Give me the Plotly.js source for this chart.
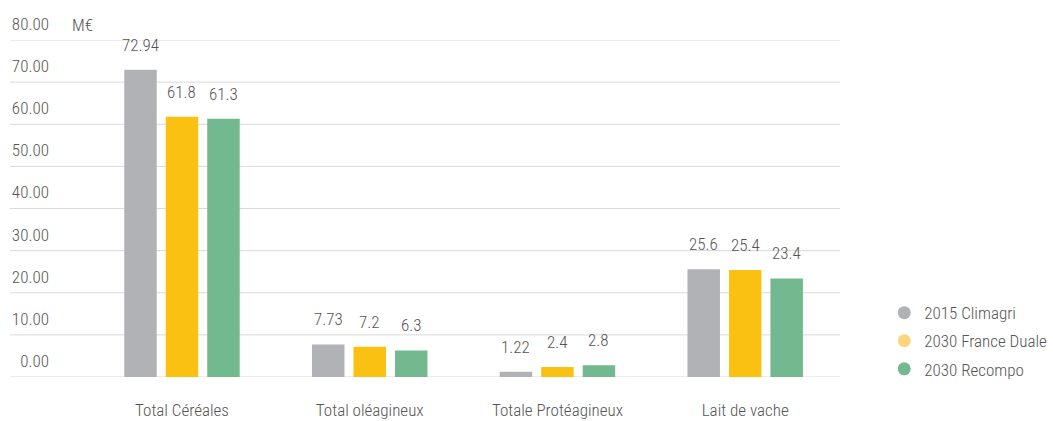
<!DOCTYPE html>
<html>
<head>
<meta charset="utf-8">
<script src="https://cdn.plot.ly/plotly-3.0.1.min.js"></script>
<style>html,body{margin:0;padding:0;background:#fff;}#chart{width:1053px;height:421px;}</style>
</head>
<body>
<div id="chart"></div>
<script>
const categories = ["Total Céréales", "Total oléagineux", "Totale Protéagineux", "Lait de vache"];
const seriesNames = ["2015 Climagri", "2030 France Duale", "2030 Recompo"];
const climagri2015 = [72.94, 7.73, 1.22, 25.6];
const franceDuale2030 = [61.8, 7.2, 2.4, 25.4];
const recompo2030 = [61.3, 6.3, 2.8, 23.4];
const labels2015 = ["72.94", "7.73", "1.22", "25.6"];
const labelsDuale = ["61.8", "7.2", "2.4", "25.4"];
const labelsRecompo = ["61.3", "6.3", "2.8", "23.4"];
const yTicks = [0, 10, 20, 30, 40, 50, 60, 70, 80];
const yTickText = ["0.00", "10.00", "20.00", "30.00", "40.00", "50.00", "60.00", "70.00", "80.00"];
const unitLabel = "M€";

const colors = ["#b1b2b6", "#fbc112", "#73b98f"];
const legendColors = ["#b1b2b6", "#fdd67c", "#73b98f"];
const FONT = "'Roboto Condensed', 'DejaVu Sans Condensed', 'Liberation Sans Narrow', 'Arial Narrow', 'Roboto', sans-serif";
const TXT = "#555555";

const allValues = [climagri2015, franceDuale2030, recompo2030];
const allLabels = [labels2015, labelsDuale, labelsRecompo];

const traces = [];
allValues.forEach((vals, s) => {
  traces.push({
    type: "bar", x: categories, y: vals, name: seriesNames[s],
    marker: {color: colors[s], line: {width: 0}},
    showlegend: false, hoverinfo: "skip"
  });
});
allValues.forEach((vals, s) => {
  traces.push({
    type: "scatter", mode: "markers", x: [null], y: [null], name: seriesNames[s],
    marker: {color: legendColors[s], size: 13, symbol: "circle"},
    legendgroup: "g" + s, showlegend: true
  });
});

const annotations = [];
allValues.forEach((vals, s) => {
  vals.forEach((v, i) => {
    annotations.push({
      x: categories[i], y: v, xref: "x", yref: "y",
      text: allLabels[s][i], showarrow: false,
      xshift: (s - 1) * 41.5, yshift: 13, yanchor: "bottom", xanchor: "center",
      font: {family: FONT, size: 17, color: TXT, weight: 300}
    });
  });
});
annotations.push({
  x: 0.0253, y: 1.0445, xref: "paper", yref: "paper", xanchor: "left", yanchor: "middle",
  text: unitLabel, showarrow: false, font: {family: FONT, size: 17, color: TXT, weight: 300}
});

const shapes = yTicks.map(t => ({
  type: "line", xref: "paper", yref: "y", x0: -0.0506, x1: 1, y0: t, y1: t,
  line: {color: "#d9d9d9", width: 1}, layer: "below"
}));

const layout = {
  width: 1053, height: 421,
  margin: {l: 50, r: 213, t: 40, b: 44, autoexpand: false},
  paper_bgcolor: "#ffffff", plot_bgcolor: "#ffffff",
  font: {family: FONT, size: 17, color: TXT, weight: 300},
  barmode: "group", bargap: 0.337, bargroupgap: 0.217,
  xaxis: {
    type: "category", range: [-0.703, 3.505], showgrid: false, zeroline: false,
    showline: false, ticks: "", ticklabelstandoff: 21, automargin: false,
    tickfont: {family: FONT, size: 17, color: TXT, weight: 300}, fixedrange: true
  },
  yaxis: {
    range: [0, 80], tickvals: yTicks, ticktext: yTickText, showgrid: false,
    zeroline: false, showline: false, ticks: "", ticklabelshift: -16, automargin: false,
    tickfont: {family: FONT, size: 17, color: TXT, weight: 300}, fixedrange: true
  },
  legend: {
    x: 1.056, xanchor: "left", y: 0.1065, yanchor: "middle",
    font: {family: FONT, size: 17, color: TXT, weight: 300}, tracegroupgap: 3,
    bgcolor: "rgba(0,0,0,0)"
  },
  showlegend: true,
  annotations: annotations,
  shapes: shapes
};

Plotly.newPlot("chart", traces, layout, {displayModeBar: false, staticPlot: true});
</script>
</body>
</html>
